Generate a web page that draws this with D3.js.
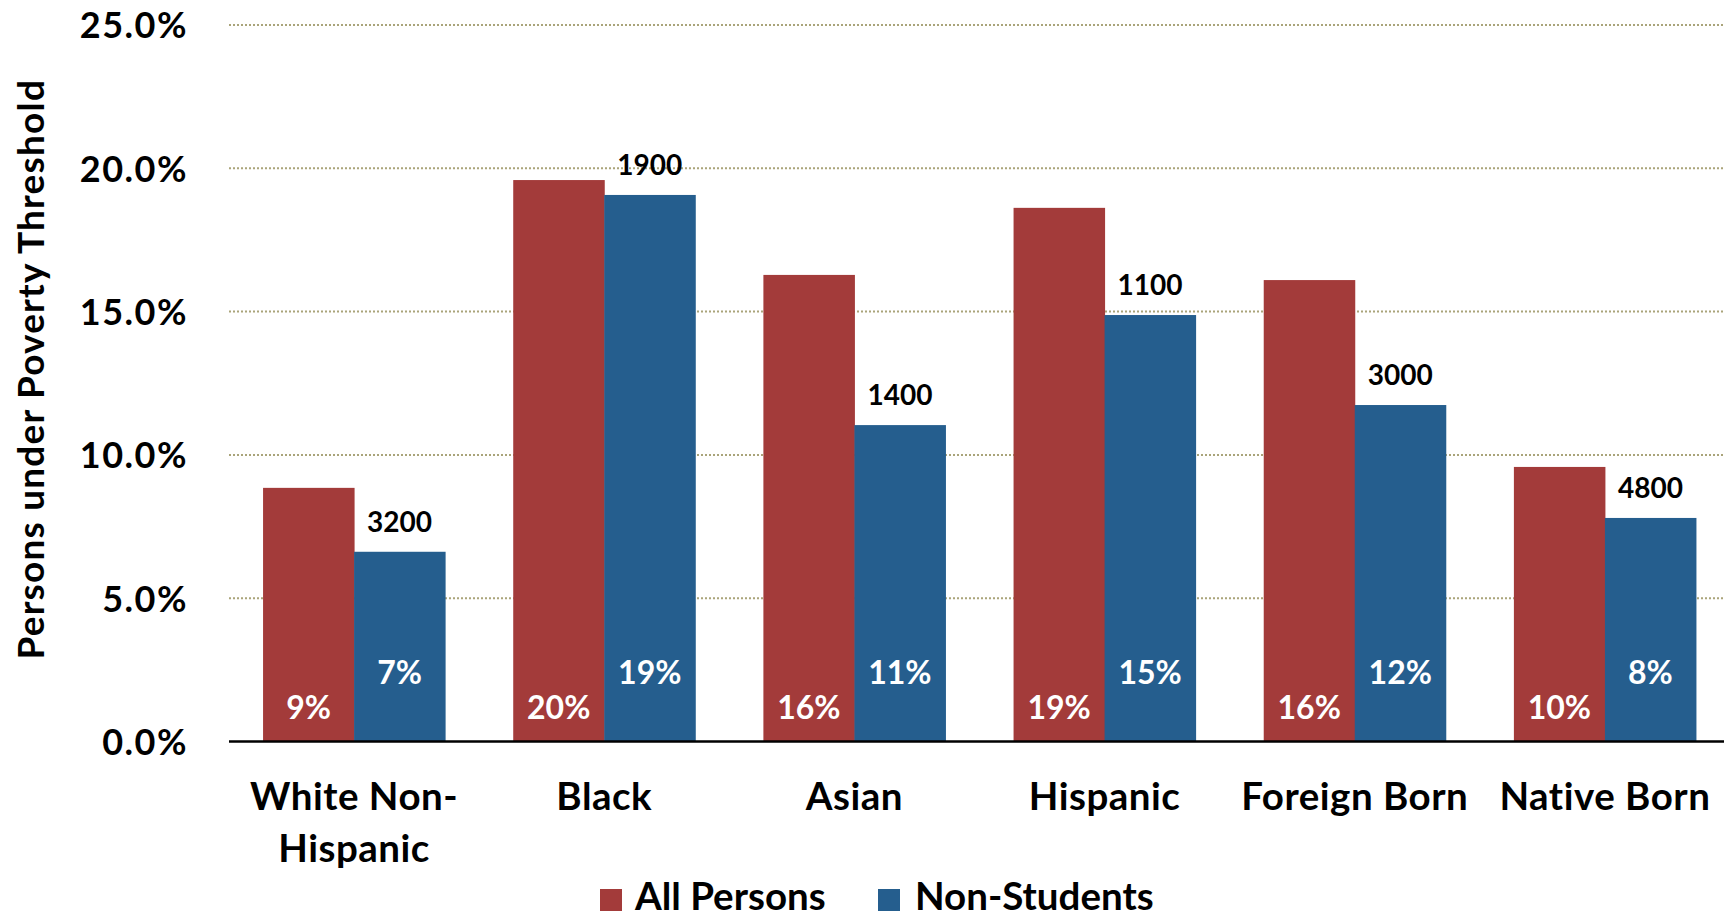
<!DOCTYPE html>
<html>
<head>
<meta charset="utf-8">
<script src="https://cdn.jsdelivr.net/npm/d3@7"></script>
<style>
  html, body { margin: 0; padding: 0; background: #fff; }
  svg text { font-family: Lato, "Open Sans", sans-serif; font-weight: 700; }
</style>
</head>
<body>
<svg id="chart" width="1724" height="919"></svg>
<script>
const categories = [["White Non-", "Hispanic"], ["Black"], ["Asian"], ["Hispanic"], ["Foreign Born"], ["Native Born"]];
const seriesNames = ["All Persons", "Non-Students"];
const allPersons = [8.85, 19.59, 16.28, 18.62, 16.10, 9.58];
const nonStudents = [6.62, 19.07, 11.04, 14.88, 11.74, 7.80];
const nonStudentCounts = [3200, 1900, 1400, 1100, 3000, 4800];
const yTicks = [0, 5, 10, 15, 20, 25];
const colors = ["#A33B3A", "#255E8E"];

(function () {
const svg = d3.select("#chart");
const W = 1724, H = 919;
const pLeft = 229, pRight = 1730, pTop = 25, pBottom = 741.5;

const catIds = categories.map((d, i) => i);
const x = d3.scaleBand().domain(catIds).range([pLeft, pRight]).paddingInner(0.2723).paddingOuter(0.13615);
const xs = d3.scaleBand().domain([0, 1]).range([0, x.bandwidth()]);
const y = d3.scaleLinear().domain([0, 25]).range([pBottom, pTop]);

// gridlines
svg.append("g").selectAll("line").data(yTicks.filter(t => t > 0)).join("line")
  .attr("x1", pLeft).attr("x2", W)
  .attr("y1", d => y(d)).attr("y2", d => y(d))
  .attr("stroke", "#aaa47a").attr("stroke-width", 2).attr("stroke-dasharray", "2 2");

// y axis tick labels
const yAxis = d3.axisLeft(y).tickValues(yTicks).tickFormat(d => d.toFixed(1) + "%").tickSize(0).tickPadding(0);
const yg = svg.append("g").attr("transform", `translate(188,0)`).call(yAxis);
yg.select(".domain").remove();
yg.selectAll("text").attr("font-size", 36).attr("fill", "#000")
  .attr("font-family", "Lato, sans-serif").attr("font-weight", 700)
  .attr("letter-spacing", 1.5)
  .attr("dy", "0.36em");

// y title
svg.append("text")
  .attr("transform", `translate(44,${(pTop + pBottom) / 2 - 14}) rotate(-90)`)
  .attr("text-anchor", "middle").attr("font-size", 37).attr("letter-spacing", 1.2).attr("fill", "#000")
  .text("Persons under Poverty Threshold");

const rows = catIds.map(i => ({ i, vals: [allPersons[i], nonStudents[i]] }));

// bars
const groups = svg.append("g").selectAll("g").data(rows).join("g")
  .attr("transform", d => `translate(${x(d.i)},0)`);
groups.selectAll("rect").data(d => d.vals.map((v, s) => ({ v, s }))).join("rect")
  .attr("x", d => xs(d.s)).attr("width", xs.bandwidth() + 0.5)
  .attr("y", d => y(d.v)).attr("height", d => y(0) - y(d.v))
  .attr("fill", d => colors[d.s]);

// inside labels
const pct = d3.format(".0%");
groups.selectAll("text.in").data(d => d.vals.map((v, s) => ({ v, s }))).join("text")
  .attr("class", "in")
  .attr("x", d => xs(d.s) + xs.bandwidth() / 2)
  .attr("y", d => d.s === 0 ? pBottom - 23 : pBottom - 58)
  .attr("text-anchor", "middle").attr("font-size", 32).attr("fill", "#fff")
  .text(d => pct(d.v / 100));

// count labels above non-students bars
groups.append("text")
  .attr("x", xs(1) + xs.bandwidth() / 2)
  .attr("y", d => y(nonStudents[d.i]) - 20)
  .attr("text-anchor", "middle").attr("font-size", 28).attr("fill", "#000")
  .text(d => nonStudentCounts[d.i]);

// x axis line
svg.append("line").attr("x1", pLeft).attr("x2", W).attr("y1", pBottom).attr("y2", pBottom)
  .attr("stroke", "#000").attr("stroke-width", 2.5);

// x labels
const xl = svg.append("g").selectAll("text").data(catIds).join("text")
  .attr("x", d => x(d) + x.bandwidth() / 2).attr("y", 810)
  .attr("text-anchor", "middle").attr("font-size", 38.5).attr("letter-spacing", 0.5).attr("fill", "#000");
xl.selectAll("tspan").data(d => categories[d].map((t, k) => ({ t, k, c: d }))).join("tspan")
  .attr("x", d => x(d.c) + x.bandwidth() / 2)
  .attr("dy", d => d.k === 0 ? 0 : 52)
  .text(d => d.t);

// legend
const legendPos = [{ sq: 600, tx: 635 }, { sq: 878, tx: 915 }];
const lg = svg.append("g").selectAll("g").data(seriesNames).join("g");
lg.append("rect").attr("x", (d, i) => legendPos[i].sq).attr("y", 889).attr("width", 22).attr("height", 22)
  .attr("fill", (d, i) => colors[i]);
lg.append("text").attr("x", (d, i) => legendPos[i].tx).attr("y", 910)
  .attr("font-size", 38.5).attr("fill", "#000").text(d => d);
})();
</script>
</body>
</html>
